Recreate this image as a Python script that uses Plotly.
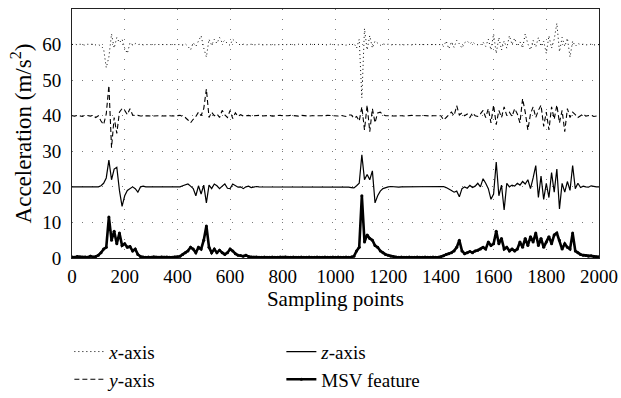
import plotly.graph_objects as go

# Sampling points (every 10th sample, 0..2000)
sample_points = list(range(0, 2001, 10))

# x-axis acceleration (offset around 60)
x_axis_acc = [
    60, 60.2, 59.9, 60.1, 60, 59.8, 60.1, 60, 60.2, 59.9, 60, 59.6, 58.8, 53.5, 56.5, 63, 59, 62, 60.5, 61.5,
    59, 57.5, 60.5, 59.8, 60.3, 60, 60.1, 59.9, 60, 60.1, 60, 59.9, 60.1, 60, 60, 59.9, 60.1, 60, 60, 59.9,
    60.1, 60, 59.8, 60.2, 59.5, 58.5, 60.5, 59.5, 61, 62.5, 59, 56.5, 61.5, 59.8, 61.5, 60.3, 62, 60.5, 61.2, 60.2,
    59.8, 61.5, 60.8, 60.2, 59.8, 60.1, 59.9, 60, 60.1, 59.9, 60, 60.1, 59.9, 60, 60.1, 60, 59.9, 60, 60.1, 60,
    60, 59.9, 60.1, 60, 60, 59.9, 60.1, 60, 59.9, 60, 60.1, 60, 59.9, 60, 60.1, 60, 60, 59.9, 60.1, 60,
    60, 59.9, 60.1, 60, 59.8, 60.2, 59.7, 60.4, 59, 61.5, 45, 64.5, 58.5, 62.5, 59, 61, 60.3, 59.8, 60.2, 60,
    60.1, 59.9, 60, 60.1, 60, 59.9, 60, 60.1, 60, 59.9, 60.1, 60, 60, 59.9, 60.1, 60, 59.9, 60, 60.1, 60,
    60, 59.5, 61, 58.8, 60.8, 59.2, 61.2, 60.2, 59, 60.5, 61, 60.2, 60.8, 60.1, 60, 59.8, 60.7, 59.5, 61.5, 58.5,
    63, 57.5, 62, 58.5, 61, 59, 62.5, 60, 61.8, 59.5, 60.8, 59, 63, 60.2, 58.5, 61.2, 59.3, 62, 59.5, 61,
    57.5, 62.5, 59, 61.5, 66, 58, 62, 59.5, 61.8, 56.5, 61, 59.5, 60.3, 60, 60.1, 59.9, 60, 60.1, 59.9, 60,
    60,
]

# y-axis acceleration (offset around 40)
y_axis_acc = [
    40, 39.9, 40.1, 40, 39.8, 40.2, 40, 39.9, 40.1, 39.5, 40, 38.5, 37.5, 40.5, 48.5, 31, 39.5, 35, 41, 42,
    41.5, 40.3, 42, 40.2, 40, 40.1, 39.9, 40, 40.1, 40, 39.9, 40, 40.1, 40, 39.9, 40, 40.1, 40, 39.9, 40,
    40, 40.1, 39.8, 39.5, 38.8, 38, 39, 39.8, 41, 40, 42, 47.5, 39.5, 41, 40, 40.5, 39.5, 41.5, 40.2, 39.5,
    41.5, 39.2, 40.8, 39.8, 40.3, 39.9, 40, 40.1, 39.9, 40, 40, 40.1, 39.9, 40, 40, 40.1, 39.9, 40, 40, 40.1,
    40, 39.9, 40, 40.1, 40, 40, 39.9, 40.1, 40, 40, 39.9, 40, 40.1, 40, 40, 39.9, 40, 40.1, 40, 40,
    40, 39.9, 40.1, 40, 39.8, 40.2, 40.2, 39.3, 39.8, 38.5, 42.5, 36, 43, 35.5, 42, 38, 40.8, 41, 40.3, 40,
    40.1, 40, 39.9, 40, 40.1, 40, 39.9, 40, 40, 40.1, 40, 39.9, 40, 40.1, 40, 40, 39.9, 40, 40.1, 40,
    40, 38.8, 39.5, 40.3, 41, 40, 42.8, 40.2, 40.8, 40, 40.5, 39.5, 40.8, 40, 39.8, 40.5, 41.5, 39.5, 42, 38,
    43, 37.5, 41.5, 39.5, 42.5, 40, 41, 39.8, 42, 40.5, 38, 44.8, 41, 36, 40.5, 42.5, 39.5, 41.5, 43, 37,
    41, 36, 42.5, 39, 43, 38, 41.5, 35.5, 42, 39.5, 41, 40.3, 39.5, 40, 40.5, 39.9, 40, 40.2, 39.8, 40,
    40,
]

# z-axis acceleration (offset around 20)
z_axis_acc = [
    20, 20, 20, 20, 20, 20, 20, 20, 20, 20, 20, 20.3, 21, 22.5, 27.5, 22, 25, 25.5, 19, 14.5,
    17.5, 19, 19.6, 20, 19.5, 18.5, 20, 20.2, 20, 20, 20.1, 20, 19.9, 20, 20, 20.1, 20, 19.9, 20, 20,
    20, 20, 20.3, 20.5, 20.8, 20.2, 19.5, 17.5, 20.3, 18, 20.5, 15.5, 20.5, 19.5, 20.8, 20.3, 19.5, 20.2, 20.8, 19.6,
    19.5, 20.8, 20.3, 19.9, 20, 19.5, 20, 20.2, 19.8, 20, 20.1, 20, 20, 19.9, 20, 20.1, 20, 20, 19.9, 20,
    20, 20, 20.1, 20, 20, 19.9, 20, 20, 20.1, 20, 20, 20, 19.9, 20, 20, 20.1, 20, 20, 20, 20,
    20, 20, 20, 20.1, 20, 19.9, 19.8, 19.7, 20.3, 21, 29, 22, 23.5, 22, 24.5, 15.5, 17.5, 18.8, 19.5, 19.8,
    20, 20.1, 20, 20, 19.9, 20, 20, 20.1, 20, 20, 20, 19.9, 20, 20, 20.1, 20, 20, 20, 19.9, 20,
    20, 20.1, 19.8, 19.5, 19, 18.5, 18.8, 17.2, 19.5, 20, 19.6, 20.4, 19.8, 20.2, 21, 20, 22.3, 21, 19.5, 16.5,
    18, 27, 17.5, 20.5, 13.5, 21, 20, 20.5, 20.2, 21, 20.5, 21.5, 20.8, 22, 19.5, 22.5, 26, 17, 23, 16.5,
    21, 17, 24, 18.5, 25, 13.8, 21, 18.5, 21.5, 19, 26, 19.5, 21, 19.8, 20.2, 20, 19.9, 20.3, 20.1, 20,
    20,
]

# MSV feature
msv_feature = [
    0.3, 0.2, 0.4, 0.3, 0.2, 0.3, 0.2, 0.5, 0.3, 0.4, 0.8, 1.5, 2.5, 3, 11.5, 5, 7.5, 4, 7, 3.5,
    4, 3, 3.2, 2, 2.5, 1, 0.4, 0.3, 0.2, 0.3, 0.2, 0.3, 0.2, 0.2, 0.3, 0.2, 0.3, 0.2, 0.2, 0.3,
    0.3, 0.5, 1, 1.5, 2, 3, 2.5, 1.5, 3, 2.5, 5, 9, 3, 1.5, 2.5, 1.5, 2.2, 1.5, 1, 1.5,
    2.5, 2, 1.2, 0.8, 0.7, 0.5, 0.8, 0.4, 0.3, 0.2, 0.3, 0.2, 0.2, 0.3, 0.2, 0.2, 0.3, 0.2, 0.2, 0.3,
    0.2, 0.3, 0.2, 0.2, 0.3, 0.2, 0.2, 0.3, 0.2, 0.2, 0.3, 0.2, 0.2, 0.3, 0.2, 0.2, 0.3, 0.2, 0.2, 0.3,
    0.2, 0.3, 0.2, 0.2, 0.3, 0.2, 0.3, 0.5, 2, 3, 17.5, 4.5, 6.5, 5.5, 5, 3.5, 3, 2, 1.5, 1,
    0.8, 0.5, 0.4, 0.3, 0.2, 0.3, 0.2, 0.2, 0.3, 0.2, 0.2, 0.3, 0.2, 0.2, 0.3, 0.2, 0.2, 0.3, 0.2, 0.2,
    0.3, 0.6, 1, 1.2, 1.5, 2, 3, 5, 2, 1.2, 1.5, 1.8, 1.5, 2, 2.2, 2.5, 3, 2.5, 4.5, 3.5,
    4, 7.5, 4, 5.5, 2.5, 3, 2, 2.5, 2, 2.5, 4.5, 3, 5.5, 3.5, 6, 4.5, 7, 3.5, 5.5, 3,
    4.5, 6, 4, 6.5, 7, 5, 2.5, 4, 3, 2.5, 7, 2, 1.5, 1, 0.8, 0.7, 0.5, 0.6, 0.4, 0.3,
    0.3,
]

FONT = "Liberation Serif, Times New Roman, serif"
TXT = dict(family=FONT, size=19, color="black")

x_trace = go.Scatter(x=sample_points, y=x_axis_acc, mode="lines", name="<i>x</i>-axis",
                     line=dict(color="black", width=1, dash="1px,3px"))
y_trace = go.Scatter(x=sample_points, y=y_axis_acc, mode="lines", name="<i>y</i>-axis",
                     line=dict(color="black", width=1.1, dash="5px,3px"))
z_trace = go.Scatter(x=sample_points, y=z_axis_acc, mode="lines", name="<i>z</i>-axis",
                     line=dict(color="black", width=1.2))
m_trace = go.Scatter(x=sample_points, y=msv_feature, mode="lines+markers", name="MSV feature",
                     line=dict(color="black", width=2.6), marker=dict(size=3, color="black"))

# legend is row-wise: x, z / y, MSV
fig = go.Figure([x_trace, z_trace, y_trace, m_trace])

axis_common = dict(showgrid=True, gridcolor="#7a7a7a", griddash="1px,9px", gridwidth=1,
                   showline=True, linecolor="#222", linewidth=1, mirror=True,
                   ticks="outside", tickcolor="rgba(0,0,0,0)", zeroline=False,
                   tickfont=TXT)

fig.update_layout(
    template="none",
    width=621, height=398,
    margin=dict(l=72, r=22, t=9, b=140, autoexpand=False),
    paper_bgcolor="white", plot_bgcolor="white",
    font=TXT,
    showlegend=True,
    xaxis=dict(range=[0, 2000], tick0=0, dtick=200, ticklen=1, tickangle=0,
               title=dict(text="Sampling points", font=dict(family=FONT, size=21, color="black"),
                          standoff=3), **axis_common),
    yaxis=dict(range=[0, 70], tick0=0, dtick=10, ticklen=6,
               title=dict(text="Acceleration (m/s<sup>2</sup>)",
                          font=dict(family=FONT, size=23, color="black"), standoff=4),
               **axis_common),
    legend=dict(orientation="h", x=-0.005, y=-0.30, xanchor="left", yanchor="top",
                bgcolor="rgba(0,0,0,0)", itemwidth=30, entrywidth=167, traceorder="normal",
                font=TXT),
)

fig.write_html("out.html")
